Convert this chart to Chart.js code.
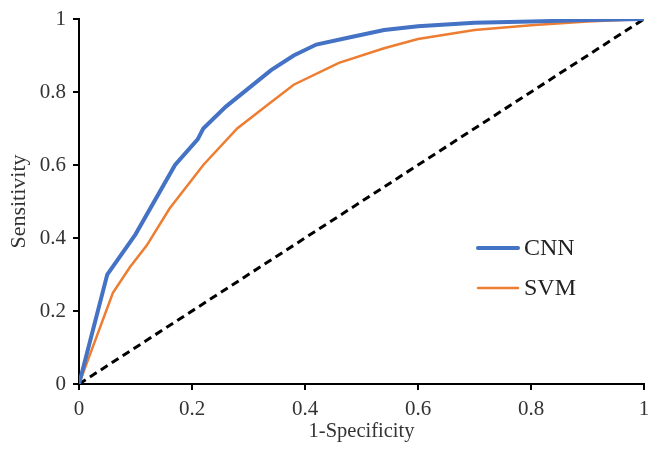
<!DOCTYPE html>
<html>
<head>
<meta charset="utf-8">
<script src="https://cdn.jsdelivr.net/npm/chart.js@4/dist/chart.umd.min.js"></script>
<style>
  html, body { margin: 0; padding: 0; background: #ffffff; }
  #wrap { width: 648px; height: 450px; }
</style>
</head>
<body>
<div id="wrap"><canvas id="roc" width="648" height="450"></canvas></div>
<script>
// ROC curves
const cnnFpr = [0, 0.05, 0.1, 0.17, 0.21, 0.22, 0.26, 0.3, 0.34, 0.38, 0.42, 0.48, 0.54, 0.6, 0.7, 0.8, 0.9, 1];
const cnnTpr = [0, 0.30, 0.41, 0.60, 0.67, 0.70, 0.76, 0.81, 0.86, 0.90, 0.93, 0.95, 0.97, 0.98, 0.99, 0.993, 0.997, 1];
const svmFpr = [0, 0.06, 0.09, 0.12, 0.16, 0.22, 0.28, 0.33, 0.38, 0.46, 0.54, 0.6, 0.7, 0.8, 0.9, 1];
const svmTpr = [0, 0.25, 0.32, 0.38, 0.48, 0.60, 0.70, 0.76, 0.82, 0.88, 0.92, 0.945, 0.97, 0.983, 0.993, 1];
const chanceFpr = [0, 1];
const chanceTpr = [0, 1];
const tickValues = [0, 0.2, 0.4, 0.6, 0.8, 1];

const seriesNames = ["CNN", "SVM"];
const seriesColors = ["#4472C4", "#ED7D31"];
const fontFamily = "'Liberation Serif', 'Times New Roman', serif";

function toPoints(xs, ys) {
  return xs.map((x, i) => ({ x, y: ys[i] }));
}

// legend sits inside the plot, drawn by hand to match the original
const insideLegend = {
  id: "insideLegend",
  afterDraw(chart) {
    const { ctx } = chart;
    const rows = [
      { label: seriesNames[0], color: seriesColors[0], width: 4, y: 248 },
      { label: seriesNames[1], color: seriesColors[1], width: 2.5, y: 288 },
    ];
    ctx.save();
    ctx.font = "24px " + fontFamily;
    ctx.textBaseline = "middle";
    rows.forEach((row) => {
      ctx.strokeStyle = row.color;
      ctx.lineWidth = row.width;
      ctx.lineCap = "round";
      ctx.beginPath();
      ctx.moveTo(478, row.y);
      ctx.lineTo(518, row.y);
      ctx.stroke();
      ctx.fillStyle = "#222";
      ctx.fillText(row.label, 524, row.y + 1);
    });
    ctx.restore();
  },
};

const axisTicks = {
  color: "#333",
  font: { family: fontFamily, size: 21 },
  padding: 7,
  callback: (v) => (tickValues.includes(v) ? String(v) : ""),
};

const axisGrid = {
  display: true,
  drawOnChartArea: false,
  drawTicks: true,
  tickLength: 6,
  color: "#000",
  lineWidth: 2,
};

new Chart(document.getElementById("roc"), {
  type: "scatter",
  data: {
    datasets: [
      {
        label: seriesNames[0],
        data: toPoints(cnnFpr, cnnTpr),
        showLine: true,
        borderColor: seriesColors[0],
        borderWidth: 4,
        pointRadius: 0,
        tension: 0,
      },
      {
        label: seriesNames[1],
        data: toPoints(svmFpr, svmTpr),
        showLine: true,
        borderColor: seriesColors[1],
        borderWidth: 2.5,
        pointRadius: 0,
        tension: 0,
      },
      {
        label: "chance",
        data: toPoints(chanceFpr, chanceTpr),
        showLine: true,
        borderColor: "#000000",
        borderWidth: 3,
        borderDash: [8, 5],
        pointRadius: 0,
      },
    ],
  },
  options: {
    responsive: false,
    animation: false,
    layout: { padding: { top: 19, right: 4, left: 0, bottom: 0 } },
    plugins: {
      legend: { display: false },
      tooltip: { enabled: false },
    },
    scales: {
      x: {
        type: "linear",
        min: 0,
        max: 1,
        afterBuildTicks: (scale) => { scale.ticks = tickValues.map((v) => ({ value: v })); },
        afterFit: (scale) => {
          scale.height = 66;
          scale.paddingLeft = 0;
          scale.paddingRight = 0;
        },
        grid: axisGrid,
        border: { display: true, color: "#000", width: 2 },
        ticks: axisTicks,
        title: {
          display: true,
          text: "1-Specificity",
          color: "#333",
          font: { family: fontFamily, size: 20.5 },
          padding: { top: 0, bottom: 6 },
        },
      },
      y: {
        type: "linear",
        min: 0,
        max: 1,
        afterBuildTicks: (scale) => { scale.ticks = tickValues.map((v) => ({ value: v })); },
        afterFit: (scale) => {
          scale.width = 79;
          scale.paddingTop = 0;
          scale.paddingBottom = 0;
        },
        grid: axisGrid,
        border: { display: true, color: "#000", width: 2 },
        ticks: axisTicks,
        title: {
          display: true,
          text: "Sensitivity",
          color: "#333",
          font: { family: fontFamily, size: 22 },
          padding: { top: 6, bottom: 0 },
        },
      },
    },
  },
  plugins: [insideLegend],
});
</script>
</body>
</html>
